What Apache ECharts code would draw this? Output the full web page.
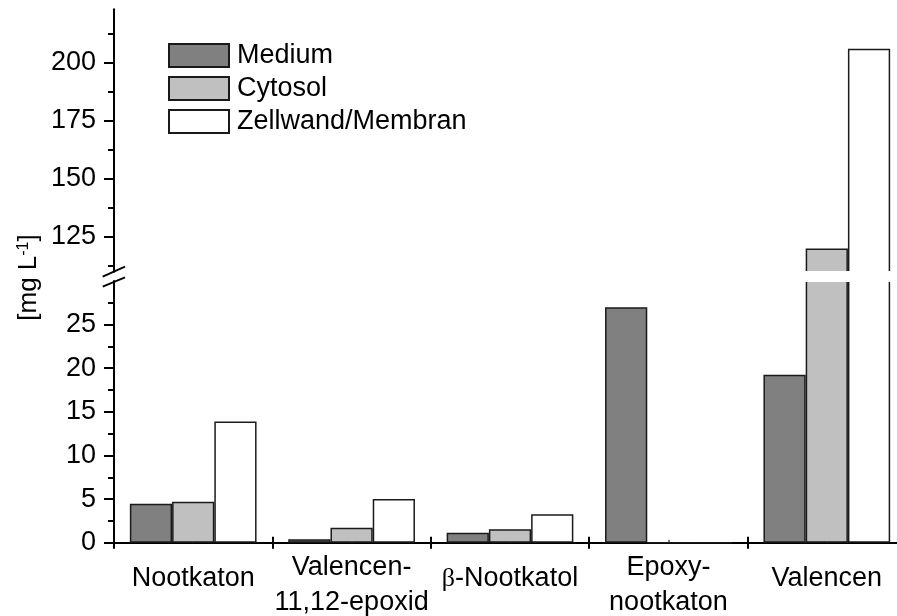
<!DOCTYPE html>
<html>
<head>
<meta charset="utf-8">
<script src="https://cdn.jsdelivr.net/npm/echarts@6/dist/echarts.min.js"></script>
<style>
  html, body { margin: 0; padding: 0; background: #ffffff; }
  #chart { width: 897px; height: 616px; }
</style>
</head>
<body>
<div id="chart"></div>
<script>
// Compound concentrations per fraction
const categories = ['Nootkaton', 'Valencen-\n11,12-epoxid', 'β-Nootkatol', 'Epoxy-\nnootkaton', 'Valencen'];
const seriesNames = ['Medium', 'Cytosol', 'Zellwand/Membran'];
const medium   = [4.47, 0.4, 1.15, 27.0, 19.25];
const cytosol  = [4.7, 1.7, 1.55, 0, 120];
const zellwand = [13.9, 5.0, 3.25, 0, 206];

// Broken value axis: lower and upper segments
const lowerRange = [0, 30];
const upperRange = [110, 223];
const lowerTicks = [0, 5, 10, 15, 20, 25];
const lowerMinorTicks = [2.5, 7.5, 12.5, 17.5, 22.5, 27.5];
const upperTicks = [125, 150, 175, 200];
const upperMinorTicks = [112.5, 137.5, 162.5, 187.5, 212.5];

const FONT = "'Liberation Sans', Arial, sans-serif";
const FS = 27;
const INK = '#000000';
const fills = ['#808080', '#c0c0c0', '#ffffff'];
const values = [medium, cytosol, zellwand];

const chart = echarts.init(document.getElementById('chart'), null, { renderer: 'canvas' });

const lowerGrid = { left: 114, right: -9, top: 281, bottom: 73.3, outerBoundsMode: 'none' };
const upperGrid = { left: 114, right: -9, top: 9.3, bottom: 344.3, outerBoundsMode: 'none' };

function valueAxis(gridIndex, range, ticks, withLine, tickLen) {
  return {
    type: 'value', gridIndex, min: range[0], max: range[1], position: 'left',
    splitLine: { show: false },
    axisLine: { show: withLine, lineStyle: { color: INK, width: 2 } },
    axisTick: { show: true, customValues: ticks, length: tickLen, lineStyle: { color: INK, width: 2 } },
    axisLabel: withLine
      ? { show: true, customValues: ticks, margin: 18, color: INK, fontFamily: FONT, fontSize: FS }
      : { show: false }
  };
}

function categoryTicks(inside, len, alignWithLabel, color, width) {
  return {
    type: 'category', gridIndex: 0, data: categories, position: 'bottom',
    axisLine: { show: false },
    axisTick: { show: true, inside, alignWithLabel, interval: 0, length: len, lineStyle: { color, width } },
    axisLabel: { show: false }, splitLine: { show: false }
  };
}

// single-line names are set in a taller line so they sit centred against the two-line ones
function categoryLabel(v) {
  if (v.indexOf('\n') >= 0) return v;
  if (v.charAt(0) === 'β') return '{b|β}{s|' + v.slice(1) + '}';
  return '{s|' + v + '}';
}

const series = [];
seriesNames.forEach((name, i) => {
  const style = { color: fills[i], borderColor: '#1a1a1a', borderWidth: 1.5 };
  series.push({
    name, type: 'bar', xAxisIndex: 0, yAxisIndex: 0,
    barGap: '0%', barCategoryGap: '20%',
    itemStyle: style, data: values[i]
  });
  series.push({
    name, type: 'bar', xAxisIndex: 3, yAxisIndex: 2,
    barGap: '0%', barCategoryGap: '20%',
    itemStyle: style,
    data: values[i].map(v => (v > upperRange[0] ? v : '-'))
  });
});

chart.setOption({
  animation: false,
  backgroundColor: '#ffffff',
  textStyle: { fontFamily: FONT },
  grid: [lowerGrid, upperGrid],
  legend: {
    orient: 'vertical', left: 163, top: 37,
    icon: 'rect', itemWidth: 60, itemHeight: 23, itemGap: 6,
    data: seriesNames,
    textStyle: { color: INK, fontFamily: FONT, fontSize: FS, lineHeight: 23, padding: [0, 0, 0, 3] }
  },
  xAxis: [
    {
      type: 'category', gridIndex: 0, data: categories, position: 'bottom',
      axisLine: { show: true, lineStyle: { color: INK, width: 2 } },
      axisTick: { show: true, interval: 0, length: 6, lineStyle: { color: INK, width: 2 } },
      axisLabel: {
        interval: 0, margin: 7, color: INK, fontFamily: FONT, fontSize: FS, lineHeight: 35,
        formatter: categoryLabel,
        rich: {
          s: { fontFamily: FONT, fontSize: FS, lineHeight: 58, color: INK },
          b: { fontFamily: "'Liberation Serif', serif", fontSize: 26, lineHeight: 58, color: INK }
        }
      },
      splitLine: { show: false }
    },
    categoryTicks(true, 6, false, INK, 2),
    categoryTicks(true, 3, true, '#555555', 1.5),
    { type: 'category', gridIndex: 1, data: categories, show: false }
  ],
  yAxis: [
    valueAxis(0, lowerRange, lowerTicks, true, 10),
    valueAxis(0, lowerRange, lowerMinorTicks, false, 6),
    valueAxis(1, upperRange, upperTicks, true, 10),
    valueAxis(1, upperRange, upperMinorTicks, false, 6)
  ],
  graphic: [
    // gap between the two axis segments
    { type: 'rect', z: 100, silent: true,
      shape: { x: 115, y: 270.9, width: 800, height: 11 },
      style: { fill: '#ffffff' } },
    // break marks on the value axis
    { type: 'line', z: 101, silent: true,
      shape: { x1: 102.7, y1: 276.7, x2: 125, y2: 266.7 },
      style: { stroke: INK, lineWidth: 2 } },
    { type: 'line', z: 101, silent: true,
      shape: { x1: 102.7, y1: 286.7, x2: 125, y2: 277.3 },
      style: { stroke: INK, lineWidth: 2 } },
    // value axis title
    { type: 'text', z: 101, silent: true,
      x: 29, y: 277.5, rotation: Math.PI / 2,
      style: {
        text: '[mg L{sup|-1}]',
        fill: INK, font: "26px 'Liberation Sans', Arial, sans-serif",
        align: 'center', verticalAlign: 'middle',
        rich: { sup: { fontSize: 16, fontFamily: FONT, fill: INK, verticalAlign: 'top', padding: [0, 0, 10, 0] } }
      } }
  ],
  series
});
</script>
</body>
</html>
